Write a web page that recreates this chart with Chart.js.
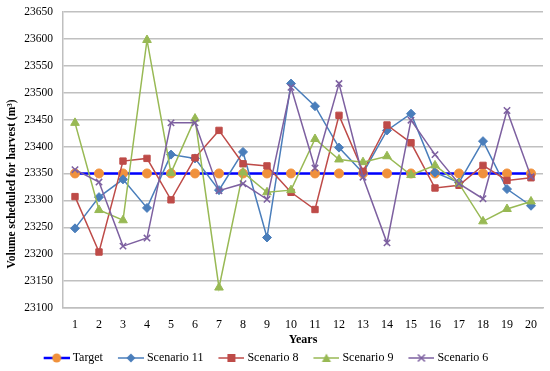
<!DOCTYPE html>
<html>
<head>
<meta charset="utf-8">
<script src="https://cdn.jsdelivr.net/npm/chart.js@4/dist/chart.umd.min.js"></script>
<style>
  html, body { margin: 0; padding: 0; background: #fff; }
  #wrap { width: 550px; height: 371px; position: relative; }
</style>
</head>
<body>
<div id="wrap"><canvas id="chart"></canvas></div>
<script>
// Data
var years = ['1','2','3','4','5','6','7','8','9','10','11','12','13','14','15','16','17','18','19','20'];
var target = [23350,23350,23350,23350,23350,23350,23350,23350,23350,23350,23350,23350,23350,23350,23350,23350,23350,23350,23350,23350];
var scenario11 = [23248,23306,23339,23286,23385,23378,23319,23390,23231,23517,23475,23398,23351,23430,23461,23352,23333,23410,23321,23290];
var scenario8 = [23307,23204,23373,23378,23301,23379,23430,23368,23364,23315,23283,23458,23354,23440,23407,23323,23328,23365,23337,23342];
var scenario9 = [23444,23282,23263,23598,23351,23452,23138,23352,23315,23319,23414,23376,23371,23382,23347,23365,23331,23261,23284,23298];
var scenario6 = [23357,23334,23215,23230,23444,23444,23318,23331,23302,23510,23360,23517,23343,23221,23449,23385,23331,23303,23467,23344];
var yTitle = 'Volume scheduled for harvest (m³)';

var font = '"Liberation Serif", "Times New Roman", serif';

// legend key: short line with the marker, drawn in the right part of a 42px canvas
function makeKey(lineColor, lineWidth, markColor, shape) {
    var c = document.createElement('canvas');
    c.width = 42; c.height = 12;
    var g = c.getContext('2d');
    var cx = 29;
    g.strokeStyle = lineColor;
    g.lineWidth = lineWidth;
    g.beginPath(); g.moveTo(16, 6); g.lineTo(42, 6); g.stroke();
    g.fillStyle = markColor;
    g.strokeStyle = markColor;
    g.beginPath();
    if (shape == 'circle') {
        g.arc(cx, 6, 4.5, 0, Math.PI * 2); g.fill();
    } else if (shape == 'diamond') {
        g.moveTo(cx, 1.5); g.lineTo(cx + 4.5, 6); g.lineTo(cx, 10.5); g.lineTo(cx - 4.5, 6); g.closePath(); g.fill();
    } else if (shape == 'square') {
        g.rect(cx - 4, 2, 8, 8); g.fill();
    } else if (shape == 'triangle') {
        g.moveTo(cx, 1.5); g.lineTo(cx + 4.5, 10); g.lineTo(cx - 4.5, 10); g.closePath(); g.fill();
    } else {
        g.lineWidth = 1.5;
        g.moveTo(cx - 3.5, 2.5); g.lineTo(cx + 3.5, 9.5); g.moveTo(cx + 3.5, 2.5); g.lineTo(cx - 3.5, 9.5); g.stroke();
    }
    return c;
}

function series(label, data, color, width, style, markColor, radius, order) {
    return {
        label: label,
        data: data,
        borderColor: color,
        borderWidth: width,
        backgroundColor: markColor,
        pointBackgroundColor: markColor,
        pointBorderColor: markColor,
        pointBorderWidth: style == 'crossRot' ? 1.5 : 1,
        pointStyle: style,
        pointRadius: radius,
        tension: 0,
        order: order
    };
}

var datasets = [
    series('Target', target, '#0000ff', 2.5, 'circle', '#f0913c', 4.5, 5),
    series('Scenario 11', scenario11, '#4a7ebb', 1.5, 'rectRot', '#4a7ebb', 4.5, 4),
    series('Scenario 8', scenario8, '#be4b48', 1.5, 'rect', '#be4b48', 4.5, 3),
    series('Scenario 9', scenario9, '#98b954', 1.5, 'triangle', '#98b954', 5, 2),
    series('Scenario 6', scenario6, '#7d60a0', 1.5, 'crossRot', '#7d60a0', 4.5, 1)
];

var keys = [
    makeKey('#0000ff', 2.5, '#f0913c', 'circle'),
    makeKey('#4a7ebb', 1.5, '#4a7ebb', 'diamond'),
    makeKey('#be4b48', 1.5, '#be4b48', 'square'),
    makeKey('#98b954', 1.5, '#98b954', 'triangle'),
    makeKey('#7d60a0', 1.5, '#7d60a0', 'cross')
];

// rotated y title sits a bit below the plot centre in the original
var sideTitle = {
    id: 'sideTitle',
    afterLayout: function(chart) {
        // legend block sits slightly left of centre and a little lower
        chart.legend.left -= 12;
        chart.legend.right -= 12;
        chart.legend.top += 3;
        chart.legend.bottom += 3;
    },
    afterDraw: function(chart) {
        var ctx = chart.ctx;
        ctx.save();
        ctx.translate(12, 184);
        ctx.rotate(-Math.PI / 2);
        ctx.font = 'bold 11.5px ' + font;
        ctx.fillStyle = '#000';
        ctx.textAlign = 'center';
        ctx.textBaseline = 'middle';
        ctx.fillText(yTitle, 0, 0);
        ctx.restore();
    }
};

new Chart(document.getElementById('chart'), {
    type: 'line',
    data: { labels: years, datasets: datasets },
    plugins: [sideTitle],
    options: {
        responsive: true,
        maintainAspectRatio: false,
        animation: false,
        layout: { padding: { top: 12, right: 7, left: 0, bottom: 0 } },
        scales: {
            x: {
                offset: true,
                afterFit: function(scale) { scale.height = 39; },
                grid: { display: false, drawTicks: false },
                border: { color: '#bfbfbf', width: 1.5 },
                ticks: { color: '#000', font: { family: font, size: 12, lineHeight: 1 }, padding: 11 },
                title: { display: true, text: 'Years', color: '#000', padding: { top: 0, bottom: 1 },
                         font: { family: font, size: 12, weight: 'bold', lineHeight: 1 } }
            },
            y: {
                min: 23100,
                max: 23650,
                afterFit: function(scale) {
                    scale.width = 63;
                    scale.paddingTop = 0;
                    scale.paddingBottom = 0;
                },
                grid: { color: '#c0c0c0', lineWidth: 1.5, drawTicks: false },
                border: { color: '#bfbfbf', width: 1.5 },
                ticks: { stepSize: 50, color: '#000', font: { family: font, size: 11.5 }, padding: 10,
                         callback: function(v) { return String(v); } }
            }
        },
        plugins: {
            tooltip: { enabled: false },
            legend: {
                position: 'bottom',
                labels: {
                    usePointStyle: true,
                    pointStyleWidth: 36,
                    boxHeight: 11,
                    padding: 2,
                    color: '#000',
                    font: { family: font, size: 12 },
                    generateLabels: function(chart) {
                        return chart.data.datasets.map(function(ds, i) {
                            return {
                                text: ds.label,
                                pointStyle: keys[i],
                                fillStyle: ds.borderColor,
                                strokeStyle: ds.borderColor,
                                lineWidth: 0,
                                fontColor: '#000',
                                hidden: false,
                                datasetIndex: i
                            };
                        });
                    }
                }
            }
        }
    }
});
</script>
</body>
</html>
